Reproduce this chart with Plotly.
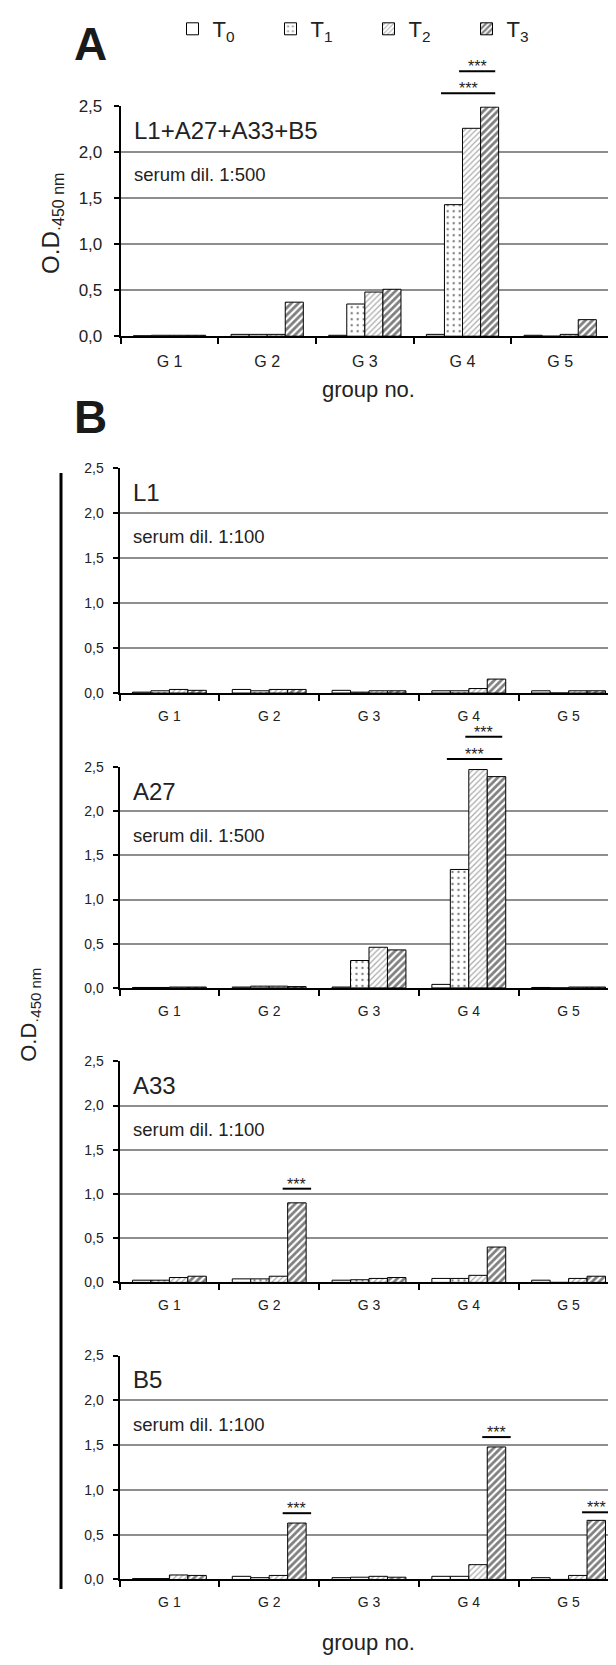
import plotly.graph_objects as go

# ---------------- data ----------------
groups = ["G 1", "G 2", "G 3", "G 4", "G 5"]
time_names = ["T<sub>0</sub>", "T<sub>1</sub>", "T<sub>2</sub>", "T<sub>3</sub>"]

# Panel A: L1+A27+A33+B5, serum dil. 1:500
mix_T0 = [0.005, 0.02, 0.01, 0.02, 0.01]
mix_T1 = [0.01, 0.02, 0.35, 1.43, 0.0]
mix_T2 = [0.01, 0.02, 0.48, 2.26, 0.02]
mix_T3 = [0.01, 0.37, 0.51, 2.49, 0.18]

# Panel B: L1, serum dil. 1:100
L1_T0 = [0.01, 0.04, 0.03, 0.025, 0.025]
L1_T1 = [0.025, 0.025, 0.01, 0.025, 0.0]
L1_T2 = [0.04, 0.04, 0.025, 0.05, 0.025]
L1_T3 = [0.03, 0.04, 0.025, 0.155, 0.025]

# A27, serum dil. 1:500
A27_T0 = [0.005, 0.01, 0.01, 0.04, 0.005]
A27_T1 = [0.005, 0.02, 0.31, 1.34, 0.0]
A27_T2 = [0.01, 0.02, 0.46, 2.47, 0.01]
A27_T3 = [0.01, 0.015, 0.43, 2.39, 0.01]

# A33, serum dil. 1:100
A33_T0 = [0.025, 0.04, 0.025, 0.045, 0.025]
A33_T1 = [0.025, 0.04, 0.03, 0.045, 0.0]
A33_T2 = [0.055, 0.07, 0.045, 0.08, 0.045]
A33_T3 = [0.07, 0.90, 0.055, 0.40, 0.07]

# B5, serum dil. 1:100
B5_T0 = [0.01, 0.035, 0.02, 0.035, 0.02]
B5_T1 = [0.01, 0.02, 0.025, 0.035, 0.0]
B5_T2 = [0.05, 0.045, 0.035, 0.165, 0.045]
B5_T3 = [0.045, 0.63, 0.025, 1.48, 0.66]

panel_names = ["L1+A27+A33+B5", "L1", "A27", "A33", "B5"]
panel_dilutions = ["serum dil. 1:500", "serum dil. 1:100", "serum dil. 1:500",
                   "serum dil. 1:100", "serum dil. 1:100"]

# significance marks: (panel index, group index, first bar, last bar, line level)
sig_marks = [
    (0, 3, 2, 3, 2.88), (0, 3, 1, 3, 2.64),
    (2, 3, 2, 3, 2.84), (2, 3, 1, 3, 2.59),
    (3, 1, 3, 3, 1.06),
    (4, 1, 3, 3, 0.74), (4, 3, 3, 3, 1.59), (4, 4, 3, 3, 0.75),
]

panel_series = [
    [mix_T0, mix_T1, mix_T2, mix_T3],
    [L1_T0, L1_T1, L1_T2, L1_T3],
    [A27_T0, A27_T1, A27_T2, A27_T3],
    [A33_T0, A33_T1, A33_T2, A33_T3],
    [B5_T0, B5_T1, B5_T2, B5_T3],
]

# ---------------- geometry ----------------
# The page body has an 8px margin: figure pixel = page pixel - 8.
OFF = 8
W, H = 616 - OFF, 1665 - OFF
FONT = "Liberation Sans, Arial, Helvetica, sans-serif"
TXT = "#222222"
BARGAP = 0.26
BW = (1 - BARGAP) / 4

def fx(px):
    return (px - OFF) / W

def fy(px):
    return 1 - (px - OFF) / H

XB_MAX = -0.5 + (616 - 119.5) / 99.8
# (x0 page px, x1 page px, xmax, zero page px, top page px)
geom = [
    (120.7, 609.0, 4.5, 326.0, 92.5),
    (119.5, 616.0, XB_MAX, 688.3, 460.0),
    (119.5, 616.0, XB_MAX, 987.7, 763.3),
    (119.5, 616.0, XB_MAX, 1286.7, 1062.3),
    (119.5, 616.0, XB_MAX, 1588.3, 1361.0),
]

patterns = [
    dict(shape="", fgcolor="black", bgcolor="white"),
    dict(shape=".", size=6, solidity=0.12, fgcolor="black", bgcolor="white"),
    dict(shape="/", size=4, solidity=0.3, fgcolor="#555555", bgcolor="white"),
    dict(shape="/", size=5, solidity=0.55, fgcolor="black", bgcolor="white"),
]

fig = go.Figure()
xs = list(range(len(groups)))

for p, series in enumerate(panel_series):
    sfx = "" if p == 0 else str(p + 1)
    for k, vals in enumerate(series):
        fig.add_trace(go.Bar(
            x=xs, y=vals, name=time_names[k],
            xaxis="x" + sfx, yaxis="y" + sfx,
            marker=dict(color="white", line=dict(color="black", width=1),
                        pattern=patterns[k]),
            showlegend=(p == 0), legendgroup=str(k),
            offsetgroup=str(k),
        ))

layout = dict(
    width=W, height=H, margin=dict(l=0, r=0, t=0, b=0),
    paper_bgcolor="white", plot_bgcolor="white",
    barmode="group", bargap=BARGAP, bargroupgap=0,
    separators=",.",
    font=dict(family=FONT, color=TXT),
    legend=dict(orientation="h", x=fx(172.5), y=fy(14), xanchor="left", yanchor="middle",
                font=dict(size=22, family=FONT, color=TXT),
                entrywidth=53, entrywidthmode="pixels", bgcolor="rgba(0,0,0,0)",
                traceorder="normal"),
    shapes=[], annotations=[],
)

for p, (x0, x1, xmax, yz, yt) in enumerate(geom):
    sfx = "" if p == 0 else str(p + 1)
    big = (p == 0)
    layout["xaxis" + sfx] = dict(
        domain=[fx(x0), min(fx(x1), 1.0)], range=[-0.5, xmax], anchor="y" + sfx,
        tickmode="array", tickvals=xs, ticktext=groups, ticks="",
        tickfont=dict(size=16 if big else 14, family=FONT, color=TXT),
        ticklabelstandoff=10 if big else 9,
        showline=True, linecolor="black", linewidth=2, showgrid=False, zeroline=False,
        minor=dict(tickmode="array", tickvals=[g - 0.5 for g in range(len(groups) + 1)],
                   ticks="outside", ticklen=6, tickwidth=2, tickcolor="black", showgrid=False),
        fixedrange=True,
    )
    layout["yaxis" + sfx] = dict(
        domain=[fy(yz), fy(yt)], range=[0, 2.5], anchor="x" + sfx,
        tickmode="linear", tick0=0, dtick=0.5, tickformat=".1f",
        ticks="outside", ticklen=5, tickwidth=2, tickcolor="black",
        tickfont=dict(size=17 if big else 14, family=FONT, color=TXT),
        ticklabelstandoff=8 if big else 6,
        showline=True, linecolor="black", linewidth=2,
        showgrid=True, gridcolor="#8e8e8e", gridwidth=2, zeroline=False,
        fixedrange=True,
    )
    layout["annotations"].append(dict(
        text=panel_names[p], xref="paper", yref="paper",
        x=fx(x0 + 11), y=fy(yt + 24.5), xanchor="left", yanchor="middle",
        showarrow=False, font=dict(size=24, family=FONT, color=TXT)))
    layout["annotations"].append(dict(
        text=panel_dilutions[p], xref="paper", yref="paper",
        x=fx(x0 + 11), y=fy(yt + 69.5), xanchor="left", yanchor="middle",
        showarrow=False, font=dict(size=18.5, family=FONT, color=TXT)))

# right grey border of panel A
layout["shapes"].append(dict(type="line", xref="x domain", yref="y domain",
                             x0=1, x1=1, y0=0, y1=1, line=dict(color="#8e8e8e", width=2)))

# significance lines and stars
for (p, g, b0, b1, lev) in sig_marks:
    sfx = "" if p == 0 else str(p + 1)
    xmax = geom[p][2]
    left = g - 2 * BW + b0 * BW
    right = g - 2 * BW + (b1 + 1) * BW
    if b0 == b1:
        left -= 0.05
        right += 0.05
    else:
        left -= 0.035
        right -= 0.035
    lx0 = (left + 0.5) / (xmax + 0.5)
    lx1 = (right + 0.5) / (xmax + 0.5)
    layout["shapes"].append(dict(type="line", xref="x" + sfx + " domain", yref="y" + sfx + " domain",
                                 x0=lx0, x1=lx1, y0=lev / 2.5, y1=lev / 2.5,
                                 line=dict(color="black", width=2)))
    layout["annotations"].append(dict(
        text="***", xref="x" + sfx + " domain", yref="y" + sfx + " domain",
        x=(lx0 + lx1) / 2, y=lev / 2.5,
        xanchor="center", yanchor="bottom", yshift=-6, showarrow=False,
        font=dict(size=16, family=FONT, color=TXT)))

# panel letters
for letter, yy in (("A", 29), ("B", 408)):
    layout["annotations"].append(dict(text="<b>" + letter + "</b>", xref="paper", yref="paper",
                                      x=fx(90), y=fy(yy), xanchor="center", yanchor="middle",
                                      showarrow=False, font=dict(size=46, family=FONT, color="#1a1a1a")))

# axis titles
layout["annotations"].append(dict(
    text="O.D<sub><span style='font-size:16px'>·450 nm</span></sub>",
    xref="paper", yref="paper", x=fx(52), y=fy(212), xanchor="center", yanchor="middle",
    textangle=-90, showarrow=False, font=dict(size=24, family=FONT, color=TXT)))
layout["annotations"].append(dict(
    text="O.D<sub><span style='font-size:15px'>·450 nm</span></sub>",
    xref="paper", yref="paper", x=fx(30), y=fy(1015), xanchor="center", yanchor="middle",
    textangle=-90, showarrow=False, font=dict(size=22, family=FONT, color=TXT)))
for yy in (380, 1652):
    layout["annotations"].append(dict(
        text="group no.", xref="paper", yref="paper", x=fx(368), y=fy(yy),
        xanchor="center", yanchor="middle", showarrow=False,
        font=dict(size=22, family=FONT, color=TXT)))

# long left line of panel B
layout["shapes"].append(dict(type="line", xref="paper", yref="paper",
                             x0=fx(61), x1=fx(61), y0=fy(465), y1=fy(1598),
                             line=dict(color="black", width=3)))

fig.update_layout(**layout)
fig.write_html("out.html")
